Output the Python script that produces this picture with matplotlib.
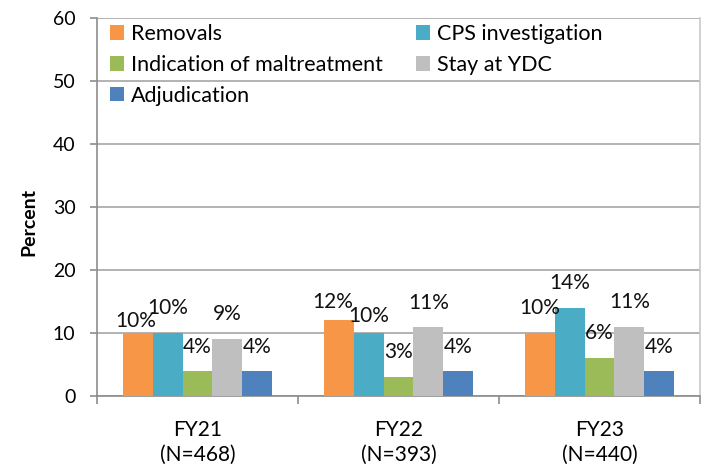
import matplotlib
matplotlib.use("Agg")
import matplotlib.pyplot as plt
import numpy as np

# ---------------------------------------------------------------------------
# Data
# ---------------------------------------------------------------------------
years = ["FY21\n(N=468)", "FY22\n(N=393)", "FY23\n(N=440)"]
series = ["Removals", "CPS investigation", "Indication of maltreatment",
          "Stay at YDC", "Adjudication"]
removals = [10, 12, 10]
cps = [10, 10, 14]
maltreatment = [4, 3, 6]
ydc = [9, 11, 11]
adjudication = [4, 4, 4]
values = [removals, cps, maltreatment, ydc, adjudication]
colors = ["#F79646", "#4BACC6", "#9BBB59", "#BFBFBF", "#4F81BD"]

# label offsets in px (above bar top / sideways), mimicking Excel's placement
label_dy = [[12, 18, 25], [25, 17, 25], [24, 25, 25], [25, 24, 25], [24, 24, 24]]
label_dx = [[-2, -6, 0], [0, 0, 0], [0, 0, 0], [0, 0, 0], [0, 0, 0]]

plt.rcParams["font.family"] = ["Lato", "DejaVu Sans"]

fig = plt.figure(figsize=(7.07, 4.68), dpi=100)
ax = fig.add_axes([0.1372, 0.1538, 0.8529, 0.8084])

x = np.arange(len(years))
w = 0.149
pt = 72 / 100  # pixels -> points
handles = []
for i, (name, vals, col) in enumerate(zip(series, values, colors)):
    pos = x + (i - 2) * w
    bars = ax.bar(pos, vals, width=w, color=col, label=name, zorder=3)
    handles.append(bars)
    for j, (b, v) in enumerate(zip(bars, vals)):
        ax.annotate(f"{v}%", (b.get_x() + b.get_width() / 2, v),
                    xytext=(label_dx[i][j] * pt, label_dy[i][j] * pt),
                    textcoords="offset points",
                    ha="center", va="center", fontsize=15, color="#111111",
                    zorder=4)

ax.set_ylim(0, 60)
ax.set_xlim(-0.5, 2.5)
ax.set_yticks(range(0, 61, 10))
ax.yaxis.grid(True, color="#A6A6A6", lw=1.2)
ax.set_axisbelow(True)
ax.tick_params(axis="y", labelsize=14, length=5, width=1.2, color="#8C8C8C", pad=10.5)
ax.set_xticks(x)
ax.set_xticklabels(years, fontsize=15, linespacing=1.35)
ax.tick_params(axis="x", length=0, pad=17)
ax.set_xticks([-0.5, 0.5, 1.5, 2.5], minor=True)
ax.tick_params(axis="x", which="minor", length=5.5, width=1.2, color="#8C8C8C")
ax.set_ylabel("Percent", fontsize=14, fontweight="bold")
ax.yaxis.set_label_coords(-0.099, 0.46)

ax.spines["top"].set_visible(False)
ax.spines["right"].set_color("#C8C8C8")
ax.spines["right"].set_linewidth(1.2)
for s in ["left", "bottom"]:
    ax.spines[s].set_color("#8C8C8C")
    ax.spines[s].set_linewidth(1.2)

# Excel fills the legend row by row; matplotlib fills column by column
order = [0, 2, 4, 1, 3]
ax.legend([handles[i] for i in order], [series[i] for i in order],
          ncol=2, loc="upper left", bbox_to_anchor=(0.0216, 0.983),
          frameon=False, fontsize=15.5, handlelength=0.65, handleheight=0.65,
          handletextpad=0.33, columnspacing=1.55, labelspacing=0.5,
          borderaxespad=0, borderpad=0)

fig.savefig("out.png", dpi=100)
